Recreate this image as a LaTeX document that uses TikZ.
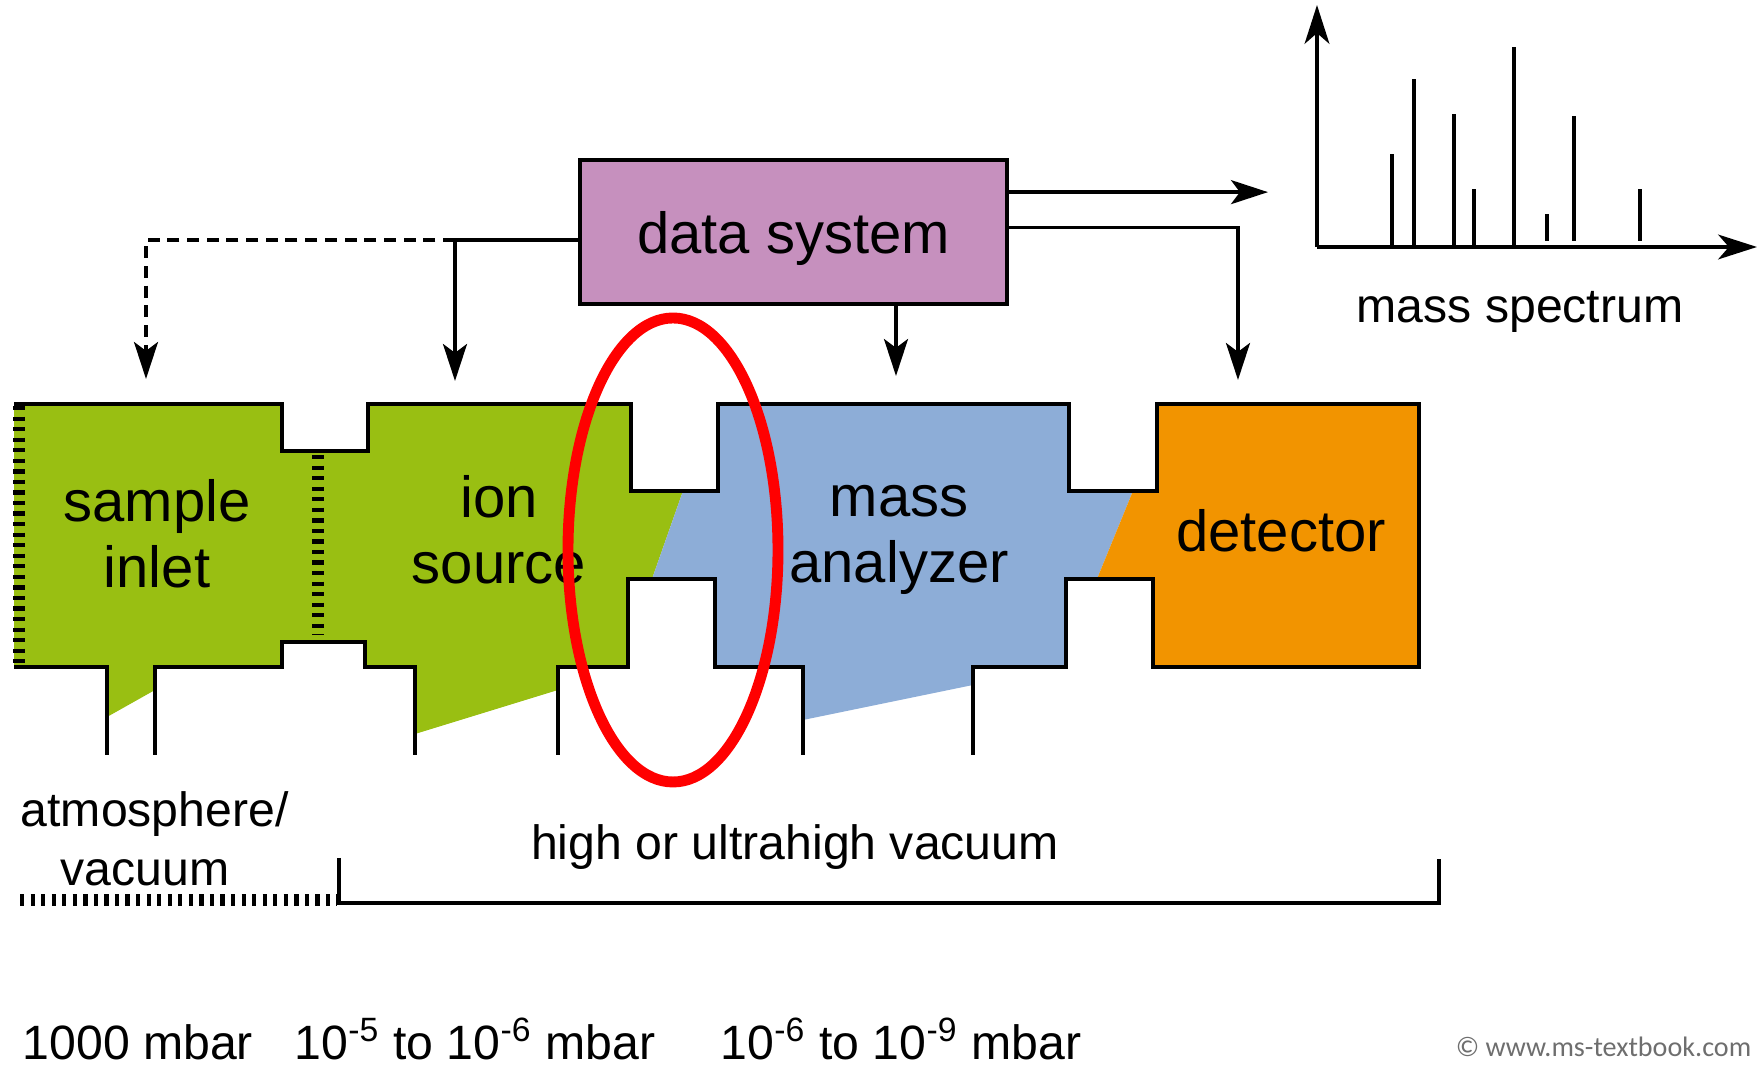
\documentclass[tikz,border=0pt]{standalone}
\usepackage{fontspec}
\setmainfont{Liberation Sans}
\newfontfamily\copyfont{Carlito}
\usetikzlibrary{arrows.meta,calc}

\definecolor{inletgreen}{RGB}{153,191,18}
\definecolor{analyzerblue}{RGB}{141,173,215}
\definecolor{detorange}{RGB}{242,148,0}
\definecolor{dsviolet}{RGB}{198,144,190}
\definecolor{markred}{RGB}{255,0,0}
\definecolor{notegray}{RGB}{110,110,110}

\tikzset{
    wall/.style     = {line width=1.2pt, line join=miter},
    link/.style     = {line width=1.1pt},
    sig/.style      = {-{Stealth[length=10.5pt,width=6.8pt,inset=2.5pt]}, line width=1.1pt},
    specaxis/.style = {-{Stealth[length=11pt,width=7pt,inset=3pt]}, line width=1.2pt},
    peak/.style     = {line width=1.1pt},
    valve/.style    = {line width=3.4pt, dash pattern=on 1.2pt off 1.8pt},
    dsbox/.style    = {draw, line width=1pt, fill=dsviolet, minimum width=4.27cm,
                       minimum height=1.44cm, text height=15.5pt, text depth=3.5pt,
                       font=\fontsize{16.5}{19}\selectfont},
    part/.style     = {align=center, anchor=base, inner sep=0pt,
                       font=\fontsize{16.5}{19}\selectfont},
    note/.style     = {anchor=base, inner sep=0pt, font=\fontsize{13.7}{16.8}\selectfont}
}

\begin{document}
\begin{tikzpicture}[x=0.01cm, y=-0.01cm]

    \useasboundingbox (0,0) rectangle (1759,1068);

    % =================================================
    % 1. Vacuum chambers (fills first, walls on top)
    % =================================================
    \fill[inletgreen] (14,404) -- (282,404) -- (282,451) -- (368,451) -- (368,404)
      -- (631,404) -- (631,491) -- (683,491) -- (652,579) -- (628,579) -- (628,667)
      -- (558,667) -- (558,690) -- (415,734) -- (415,667) -- (365,667) -- (365,642)
      -- (282,642) -- (282,667) -- (155,667) -- (155,690) -- (107,717) -- (107,667)
      -- (14,667) -- cycle;
    \fill[analyzerblue] (683,491) -- (718,491) -- (718,404) -- (1069,404) -- (1069,491)
      -- (1133,491) -- (1097,579) -- (1066,579) -- (1066,667) -- (973,667) -- (973,685)
      -- (803,720) -- (803,667) -- (715,667) -- (715,579) -- (652,579) -- cycle;
    \fill[detorange] (1133,491) -- (1157,491) -- (1157,404) -- (1419,404) -- (1419,667)
      -- (1153,667) -- (1153,579) -- (1097,579) -- cycle;

    \draw[wall] (14,404) -- (282,404) -- (282,451) -- (368,451) -- (368,404)
      -- (631,404) -- (631,491) -- (718,491) -- (718,404) -- (1069,404) -- (1069,491)
      -- (1157,491) -- (1157,404) -- (1419,404) -- (1419,667) -- (1153,667)
      -- (1153,579) -- (1066,579) -- (1066,667) -- (973,667) -- (973,755);
    \draw[wall] (803,755) -- (803,667) -- (715,667) -- (715,579) -- (628,579)
      -- (628,667) -- (558,667) -- (558,755);
    \draw[wall] (415,755) -- (415,667) -- (365,667) -- (365,642) -- (282,642)
      -- (282,667) -- (155,667) -- (155,755);
    \draw[wall] (107,755) -- (107,667) -- (14,667);

    % inlet walls that are not closed
    \draw[valve] (19,406) -- (19,665);
    \draw[valve] (318,455) -- (318,635);

    % base of a two-line node = baseline of its last line
    \node[part] (inletlbl) at (157,588) {sample\\inlet};
    \node[part] (ionlbl)   at (499,584) {ion\\source};
    \node[part] (analbl)   at (899,583) {mass\\analyzer};
    \node[part] (detlbl)   at (1281,552) {detector};

    % =================================================
    % 2. Data system and its connections
    % =================================================
    \node[dsbox] (dsys) at (793.5,232) {data system};

    \coordinate (inletIn) at (146,379);
    \coordinate (ionIn)   at (455,381);
    \coordinate (anaIn)   at (896,376);
    \coordinate (detIn)   at (1238,380);
    \coordinate (specIn)  at (1268,193);

    \coordinate (dsL)   at ($(dsys.north west)!0.556!(dsys.south west)$);
    \coordinate (dsR1)  at ($(dsys.north east)!0.23!(dsys.south east)$);
    \coordinate (dsR2)  at ($(dsys.north east)!0.47!(dsys.south east)$);
    \coordinate (split) at (dsL -| ionIn);

    \draw[link] (dsL) -- (split);
    \draw[sig] (split) -- (ionIn);
    \draw[sig, dash pattern=on 3.4pt off 2.2pt] (split) -| (inletIn);
    \draw[sig] (dsR1) -- (specIn |- dsR1);
    \draw[sig] (dsR2) -| (detIn);
    \draw[sig] (dsys.south -| anaIn) -- (anaIn);

    % ---------- mass spectrum ----------
    \coordinate (org) at (1317,247);
    \draw[specaxis] (org) -- (1317,5);
    \draw[specaxis] (org) -- (1757,247);
    \foreach \px/\ptop/\pbot in {1392/154/247, 1414/79/247, 1454/114/247,
                                 1474/189/247, 1514/47/247, 1547/214/241,
                                 1574/116/241, 1640/189/241}
        \draw[peak] (\px,\pbot) -- (\px,\ptop);
    \node[note] (speclbl) at (1520,323) {mass spectrum};

    % =================================================
    % 3. Pressure regions
    % =================================================
    \draw[valve] (20,900) -- (337,900);
    \draw[link] (339,858) -- (339,903) -- (1439,903) -- (1439,859);

    \node[note, align=left, anchor=base west] (atmlbl) at (20,886)
      {atmosphere/\\\hspace*{0.4cm}vacuum};
    \node[note] (hvlbl) at (795,860) {high or ultrahigh vacuum};

    \node[note, anchor=base west] (p1) at (22,1060) {1000 mbar};
    \node[note, anchor=base west] (p2) at (294,1060)
      {10\textsuperscript{-5} to 10\textsuperscript{-6} mbar};
    \node[note, anchor=base west] (p3) at (720,1060)
      {10\textsuperscript{-6} to 10\textsuperscript{-9} mbar};

    \node[anchor=base east, inner sep=0pt, text=notegray,
          font=\copyfont\fontsize{8}{10}\selectfont] (copy) at (1752,1057)
      {© www.ms-textbook.com};

    % ---------- highlight ----------
    \draw[markred, line width=3.1pt] (673,550) ellipse [x radius=105, y radius=232];

\end{tikzpicture}
\end{document}
